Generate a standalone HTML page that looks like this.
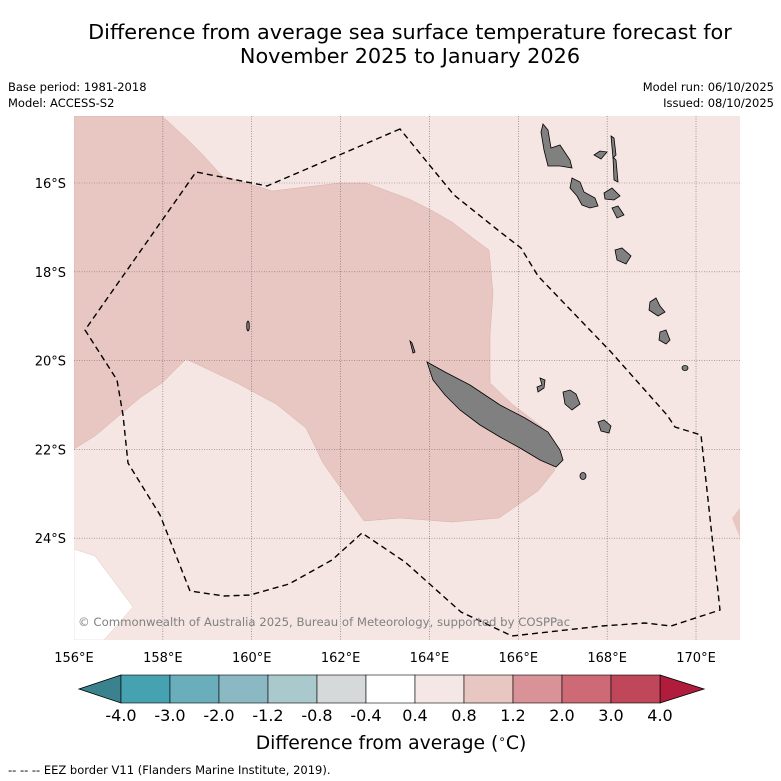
<!DOCTYPE html>
<html><head><meta charset="utf-8"><style>
body{margin:0;background:#fff;width:781px;height:781px;overflow:hidden;font-family:"DejaVu Sans","Liberation Sans",sans-serif}
svg{display:block}
</style></head><body>
<svg id="c" width="781" height="781" xmlns="http://www.w3.org/2000/svg">
<text x="410" y="39" text-anchor="middle" font-size="20.8">Difference from average sea surface temperature forecast for</text>
<text x="410" y="63" text-anchor="middle" font-size="20.8">November 2025 to January 2026</text>
<text x="8" y="91" font-size="11.5">Base period: 1981-2018</text>
<text x="8" y="107" font-size="11.5">Model: ACCESS-S2</text>
<text x="774" y="91" font-size="11.5" text-anchor="end">Model run: 06/10/2025</text>
<text x="774" y="107" font-size="11.5" text-anchor="end">Issued: 08/10/2025</text>
<defs><clipPath id="mc"><rect x="74" y="116" width="666" height="524"/></clipPath></defs>
<g id="map" clip-path="url(#mc)">
<rect x="74" y="116" width="666" height="524" fill="#f5e6e4"/>
<polygon fill="#e8c6c2" stroke="#d9b0ab" stroke-width="0.5" points="74,116 162,116 186,138 203,155 222,176 263,188 272,191 340,183 366,183 409,199 431,210 452,222 478,242 489,250 493,293 490,335 490,383 512,404 542,427 546,449 555,470 538,491 499,518 452,522 400,518 364,521 340,487 323,463 306,428 276,404 237,383 186,359 162,383 141,397 95,436 74,449"/>
<polygon fill="#e8c6c2" points="740,508 732,518 740,538"/>
<polygon fill="#ffffff" stroke="#e0c8c5" stroke-width="0.5" points="74,549 95,556 133,607 104,640 74,640"/>
<g id="grid"></g>
<polygon fill="none" stroke="#000" stroke-width="1.4" stroke-dasharray="6,4" points="400,129 267,186 196,172 85,330 117,380 123,415 128,463 160,515 190,591 224,596 250,595 289,584 332,560 362,533 405,562 461,612 512,636 602,626 645,623 671,626 720,610 701,435 675,427 667,415 611,352 538,276 521,248 499,231 454,195"/>
<g fill="#808080" stroke="#000" stroke-width="0.8">
<polygon points="427,362 445,372 470,385 500,405 525,418 548,432 560,450 563,460 556,467 540,460 520,448 500,437 480,425 460,410 445,395 433,380"/>
<polygon points="543,124 548,130 551,148 560,145 570,160 572,168 560,166 548,166 544,150 541,132"/>
<polygon points="572,178 580,182 584,192 595,198 598,206 590,208 582,205 577,196 570,188"/>
<polygon points="604,193 612,188 620,196 614,200 605,199"/>
<polygon points="615,250 622,248 631,256 626,264 617,260"/>
<polygon points="650,302 656,298 660,306 665,312 658,316 649,310"/>
<polygon points="660,332 666,330 670,340 666,344 659,340"/>
<polygon points="611,136 614,138 616,155 613,158"/>
<polygon points="613,157 616,160 618,182 614,180"/>
<polygon points="594,155 600,151 607,152 601,159"/>
<polygon points="612,208 618,206 624,215 617,218"/>
<polygon points="563,392 570,390 576,394 580,404 572,410 565,404"/>
<polygon points="598,422 604,420 611,426 609,433 601,431"/>
<polygon points="540,378 545,380 544,388 538,392 537,387 542,385"/>
<ellipse cx="248" cy="326" rx="1.3" ry="5"/>
<ellipse cx="583" cy="476" rx="3" ry="3.5"/>
<ellipse cx="685" cy="368" rx="3" ry="2.5"/>
<polygon points="410,341 412,343 415,352 413,353"/>
</g>
<text x="78" y="626" font-size="11.7" fill="#808080">© Commonwealth of Australia 2025, Bureau of Meteorology, supported by COSPPac</text>
</g>
<g id="axes"></g>
<g id="cbar"></g>
<text x="391" y="749" text-anchor="middle" font-size="18.8">Difference from average (<tspan font-size="12" dy="-6">∘</tspan><tspan dy="6">C)</tspan></text>
<text x="8" y="774" font-size="11.5">--  --  -- EEZ border V11 (Flanders Marine Institute, 2019).</text>
</svg>
<script>
const lonTicks=[156,158,160,162,164,166,168,170];
const latTicks=[16,18,20,22,24];
const cbBounds=["-4.0","-3.0","-2.0","-1.2","-0.8","-0.4","0.4","0.8","1.2","2.0","3.0","4.0"];
const cbColors=["#46a1b1","#6aaebb","#8bb9c3","#a9c9cc","#d5d9d9","#ffffff","#f5e7e5","#e8c7c2","#d99298","#cd6a75","#c04759"];
const cbLow="#3a838e", cbHigh="#b01c3b";
const NS="http://www.w3.org/2000/svg";
const xOf=lon=>74+(lon-156)*44.43;
const yOf=lat=>183+(lat-16)*44.4;
function mk(t,a,p){const e=document.createElementNS(NS,t);for(const k in a)e.setAttribute(k,a[k]);p.appendChild(e);return e;}
const grid=document.getElementById('grid'),axes=document.getElementById('axes');
lonTicks.forEach(l=>{
 const x=xOf(l);
 if(l>156){const g=mk('line',{x1:x,y1:116,x2:x,y2:640,stroke:'#666','stroke-width':0.6,'stroke-dasharray':'1,1.5'},grid);
 
 }
 const t=mk('text',{x:x,y:662,'text-anchor':'middle','font-size':13},axes);t.textContent=l+'°E';
 
 
});
latTicks.forEach(l=>{
 const y=yOf(l);
 const g=mk('line',{x1:74,y1:y,x2:740,y2:y,stroke:'#8a6f6f','stroke-width':0.6,'stroke-dasharray':'1,1.5'},grid);
 
 
 const t=mk('text',{x:66,y:y+5,'text-anchor':'end','font-size':13},axes);t.textContent=l+'°S';
 
 
});
const cb=document.getElementById('cbar');
const x0=121,x1=660,y0=675,y1=703,w=(x1-x0)/cbColors.length;
const lo=mk('polygon',{points:`${x0},${y0} 79,${(y0+y1)/2} ${x0},${y1}`,fill:cbLow,stroke:'#000','stroke-width':0.8},cb);


const hi=mk('polygon',{points:`${x1},${y0} 704,${(y0+y1)/2} ${x1},${y1}`,fill:cbHigh,stroke:'#000','stroke-width':0.8},cb);


cbColors.forEach((c,i)=>{
 const r=mk('rect',{x:x0+i*w,y:y0,width:w,height:y1-y0,fill:c,stroke:'#000','stroke-width':0.6},cb);
 
 
});
cbBounds.forEach((b,i)=>{
 const t=mk('text',{x:x0+i*w,y:721,'text-anchor':'middle','font-size':16},cb);t.textContent=b;
 
 
});
</script>
</body></html>
